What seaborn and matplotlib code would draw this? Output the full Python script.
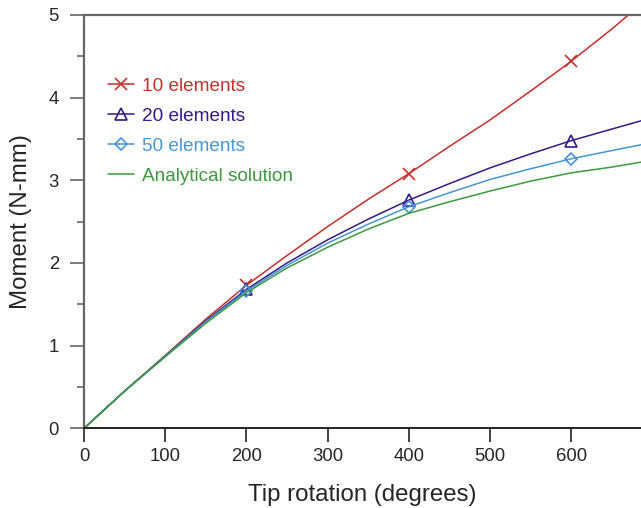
import numpy as np
import pandas as pd
import matplotlib
matplotlib.use("Agg")
import matplotlib.pyplot as plt
import seaborn as sns

# --- DATA ---
rotation = [0, 50, 100, 150, 200, 250, 300, 350, 400, 450, 500, 550, 600, 650, 686]
m_10 = [0, 0.45, 0.88, 1.32, 1.73, 2.09, 2.44, 2.77, 3.08, 3.41, 3.73, 4.08, 4.44, 4.83, 5.13]
m_20 = [0, 0.45, 0.875, 1.30, 1.68, 2.00, 2.28, 2.53, 2.76, 2.96, 3.15, 3.32, 3.48, 3.62, 3.72]
m_50 = [0, 0.45, 0.87, 1.29, 1.66, 1.97, 2.24, 2.47, 2.68, 2.85, 3.01, 3.14, 3.26, 3.36, 3.43]
m_exact = [0, 0.45, 0.865, 1.27, 1.64, 1.94, 2.19, 2.41, 2.60, 2.74, 2.87, 2.99, 3.09, 3.16, 3.22]
labels = ["10 elements", "20 elements", "50 elements", "Analytical solution"]
marked_idx = [4, 8, 12]  # markers at 200, 400, 600 degrees

sns.set_style("ticks")
plt.rcParams['font.family'] = ['Liberation Sans', 'DejaVu Sans']

fig = plt.figure(figsize=(6.41, 5.08), dpi=100)
ax = fig.add_axes([84 / 641, 1 - 428.3 / 508, 1 - 84 / 641, (428.3 - 15) / 508])

series = [m_10, m_20, m_50, m_exact]
colors = ["#c4302b", "#34198a", "#4597d3", "#3c9a3f"]
markers = ["x", "^", "D", None]
msizes = [9, 8, 6.5, 0]

for vals, lab, col, mk, ms in zip(series, labels, colors, markers, msizes):
    df = pd.DataFrame({"x": rotation, "y": vals})
    kw = dict(marker=mk, markersize=ms, markevery=marked_idx,
              markerfacecolor="none", markeredgecolor=col, markeredgewidth=1.2) if mk else {}
    sns.lineplot(data=df, x="x", y="y", ax=ax, color=col, lw=1.1, sort=False,
                 label=lab, clip_on=True, **kw)

ax.set_xlim(0, 686)
ax.set_ylim(0, 5)
ax.set_xticks([0, 100, 200, 300, 400, 500, 600])
ax.set_yticks([0, 1, 2, 3, 4, 5])
ax.set_yticks(np.arange(0.5, 5, 1.0), minor=True)

ax.set_xlabel("Tip rotation (degrees)", fontsize=17.3, labelpad=14)
ax.set_ylabel("Moment (N-mm)", fontsize=17.3, labelpad=12)

ax.tick_params(axis="x", which="major", length=10, width=1.2, labelsize=13.3, pad=4, color="#222222")
ax.tick_params(axis="y", which="major", length=10, width=1.2, labelsize=13.3, pad=8, color="#666666")
ax.tick_params(axis="y", which="minor", length=5, width=1.2, color="#666666")

for side in ["left", "top"]:
    ax.spines[side].set_color("#666666")
    ax.spines[side].set_linewidth(1.6)
ax.spines["bottom"].set_color("#222222")
ax.spines["bottom"].set_linewidth(1.4)
ax.spines["right"].set_visible(False)

leg = ax.legend(loc="upper left", bbox_to_anchor=(0.043, 0.848), frameon=False,
                fontsize=13.7, handlelength=1.35, handletextpad=0.45, labelspacing=0.66,
                borderpad=0, borderaxespad=0, labelcolor="linecolor")

fig.savefig("out.png", dpi=100)
